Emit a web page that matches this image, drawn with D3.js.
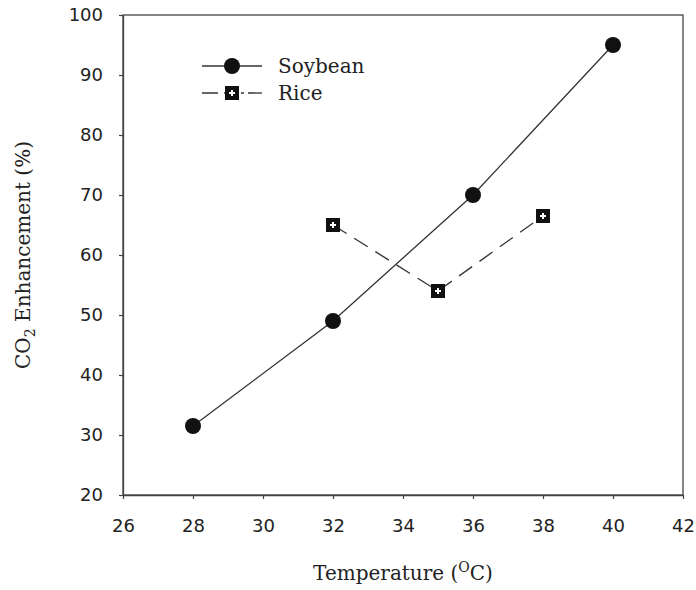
<!DOCTYPE html>
<html><head><meta charset="utf-8">
<script src="https://cdn.jsdelivr.net/npm/d3@7"></script>
<style>body{margin:0;background:#fff}</style>
</head><body>
<svg id="chart" width="696" height="590"></svg>
<script>
const soyTemp = [28, 32, 36, 40];
const soyValue = [31.5, 49, 70, 95];
const riceTemp = [32, 35, 38];
const riceValue = [65, 54, 66.5];
const xTicks = [26, 28, 30, 32, 34, 36, 38, 40, 42];
const yTicks = [20, 30, 40, 50, 60, 70, 80, 90, 100];

const svg = d3.select("#chart");
const x = d3.scaleLinear().domain([26, 42]).range([123, 683]);
const y = d3.scaleLinear().domain([20, 100]).range([495, 15]);
const axisColor = "#444";
const serif = "'DejaVu Serif', serif";

// frame
svg.append("rect").attr("x", x(26)).attr("y", y(100))
  .attr("width", x(42) - x(26)).attr("height", y(20) - y(100))
  .attr("fill", "none").attr("stroke", axisColor).attr("stroke-width", 1.3);

const gx = svg.append("g").attr("transform", `translate(0,${y(20)})`)
  .call(d3.axisBottom(x).tickValues(xTicks).tickSize(4).tickSizeOuter(0).tickPadding(20));
const gy = svg.append("g").attr("transform", `translate(${x(26)},0)`)
  .call(d3.axisLeft(y).tickValues(yTicks).tickSize(4).tickSizeOuter(0).tickPadding(16));
[gx, gy].forEach(g => {
  g.select(".domain").attr("stroke", axisColor).attr("stroke-width", 1.3);
  g.selectAll(".tick line").attr("stroke", axisColor).attr("stroke-width", 1.2);
  g.selectAll(".tick text").attr("font-family", "'DejaVu Sans', sans-serif")
    .attr("font-size", 18).attr("fill", "#222");
});

// lines
const line = d3.line().x(d => x(d[0])).y(d => y(d[1]));
const soy = soyTemp.map((t, i) => [t, soyValue[i]]);
const rice = riceTemp.map((t, i) => [t, riceValue[i]]);
svg.append("path").attr("d", line(soy)).attr("fill", "none")
  .attr("stroke", "#333").attr("stroke-width", 1.3);
svg.append("path").attr("d", line(rice)).attr("fill", "none")
  .attr("stroke", "#333").attr("stroke-width", 1.3).attr("stroke-dasharray", "16,9");

function circleMarker(g, cx, cy) {
  g.append("circle").attr("cx", cx).attr("cy", cy).attr("r", 8).attr("fill", "#111");
}
function squareMarker(g, cx, cy) {
  g.append("rect").attr("x", cx - 7).attr("y", cy - 7).attr("width", 14).attr("height", 14).attr("fill", "#111");
  g.append("path").attr("d", `M${cx - 3},${cy}H${cx + 3}M${cx},${cy - 3}V${cy + 3}`)
    .attr("stroke", "#fff").attr("stroke-width", 2);
}
const marks = svg.append("g");
soy.forEach(d => circleMarker(marks, x(d[0]), y(d[1])));
rice.forEach(d => squareMarker(marks, x(d[0]), y(d[1])));

// legend
const leg = svg.append("g");
leg.append("line").attr("x1", 202).attr("x2", 262).attr("y1", 66).attr("y2", 66)
  .attr("stroke", "#333").attr("stroke-width", 1.3);
circleMarker(leg, 232, 66);
leg.append("text").attr("x", 278).attr("y", 73).text("Soybean")
  .attr("font-family", serif).attr("font-size", 20).attr("fill", "#222");
leg.append("line").attr("x1", 202).attr("x2", 262).attr("y1", 93).attr("y2", 93)
  .attr("stroke", "#333").attr("stroke-width", 1.3).attr("stroke-dasharray", "16,6,11,6,3,4");
squareMarker(leg, 232, 93);
leg.append("text").attr("x", 278).attr("y", 100).text("Rice")
  .attr("font-family", serif).attr("font-size", 20).attr("fill", "#222");

// axis titles
const xt = svg.append("text").attr("x", (x(26) + x(42)) / 2).attr("y", 580)
  .attr("text-anchor", "middle").attr("font-family", serif).attr("font-size", 20).attr("fill", "#222");
xt.append("tspan").text("Temperature (");
xt.append("tspan").text("O").attr("font-size", 14).attr("dy", -8);
xt.append("tspan").text("C)").attr("dy", 8);

const yt = svg.append("text").attr("transform", `translate(30,${(y(20) + y(100)) / 2}) rotate(-90)`)
  .attr("text-anchor", "middle").attr("font-family", serif).attr("font-size", 20).attr("fill", "#222");
yt.append("tspan").text("CO");
yt.append("tspan").text("2").attr("font-size", 14).attr("dy", 5);
yt.append("tspan").text(" Enhancement (%)").attr("dy", -5);
</script>
</body></html>
